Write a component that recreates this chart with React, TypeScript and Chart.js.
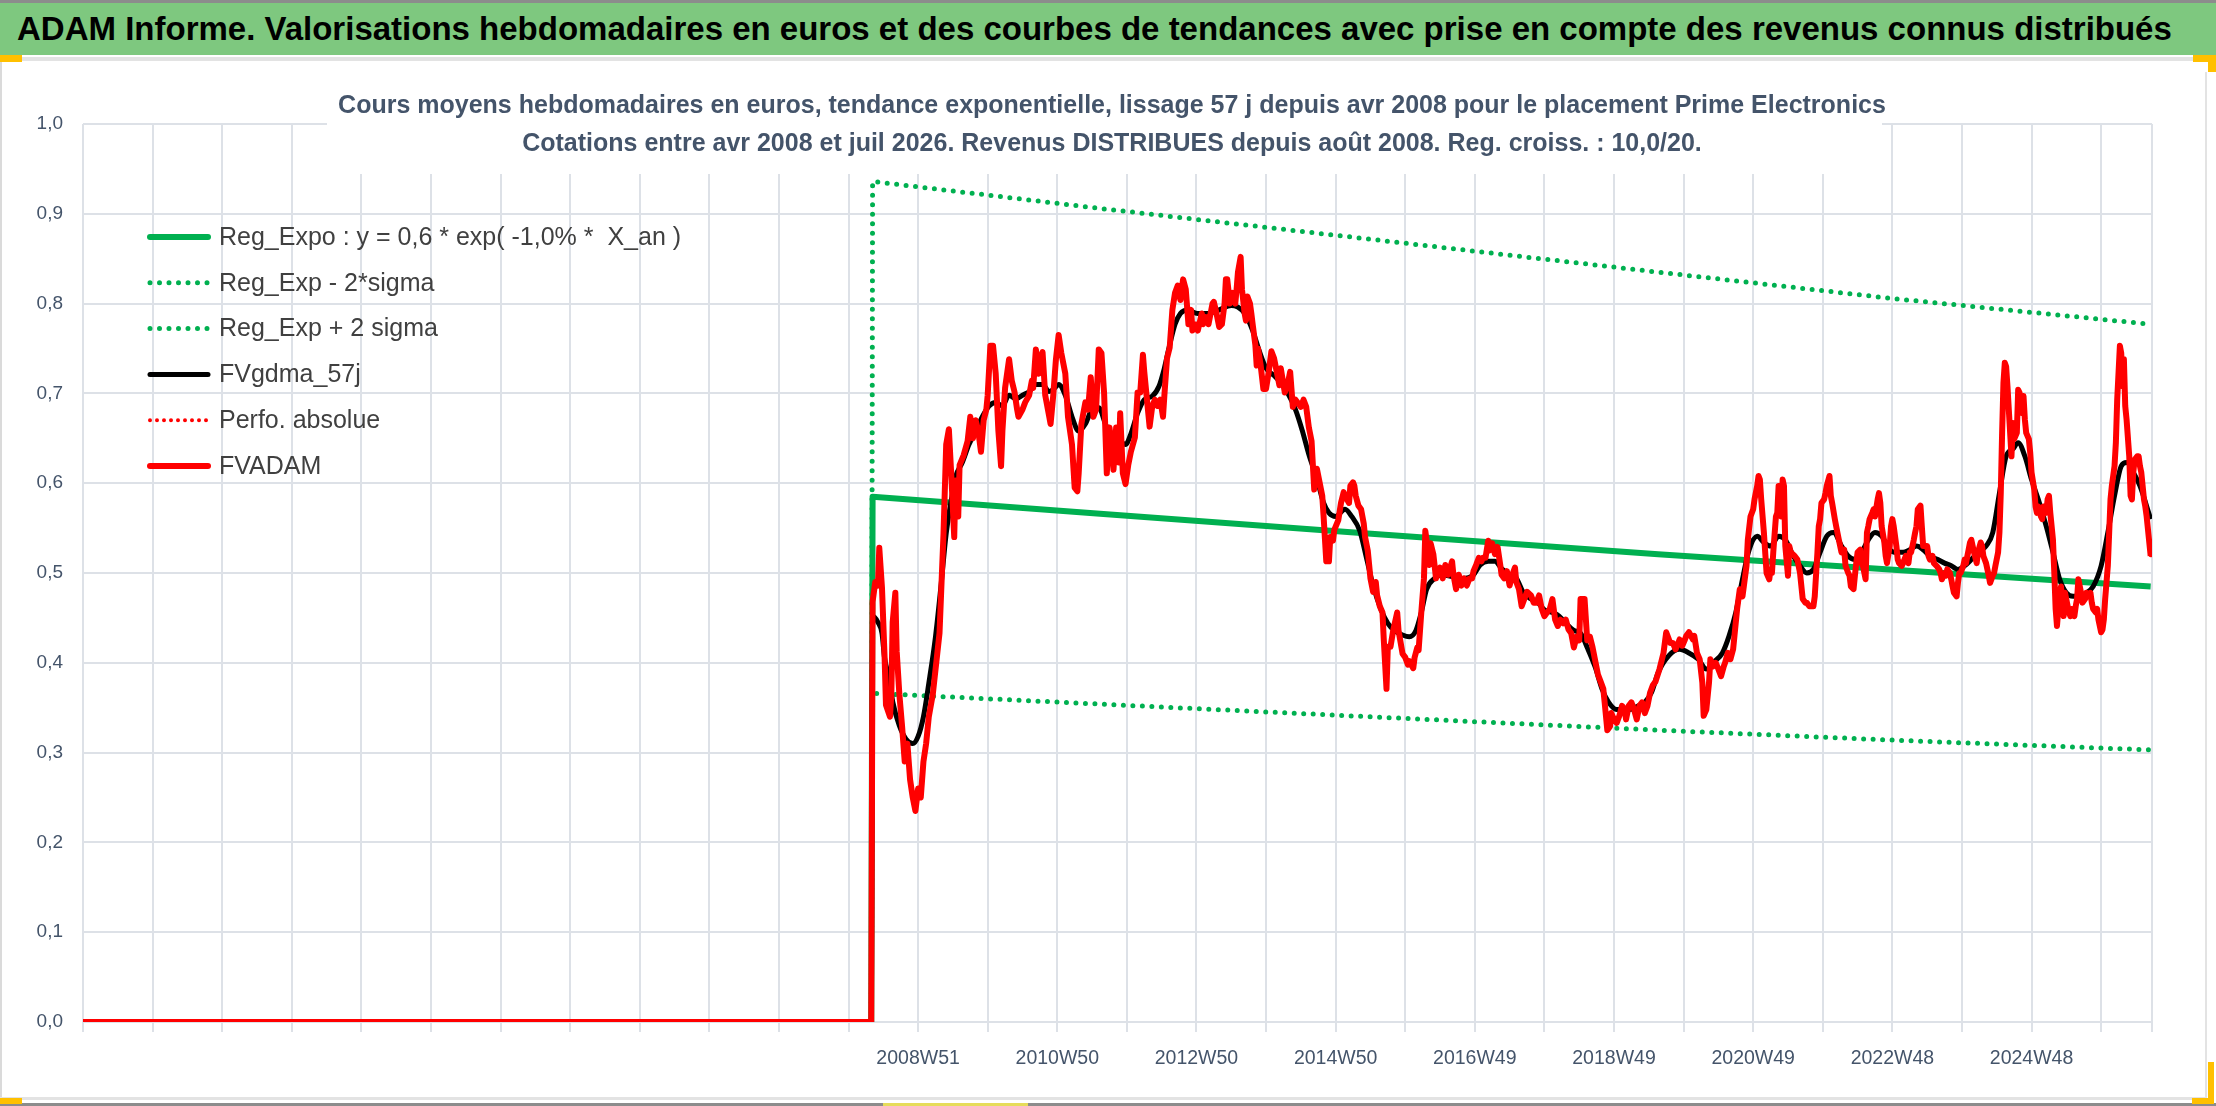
import { useEffect, useRef } from "react";
import { Chart, registerables, type Plugin } from "chart.js";

Chart.register(...registerables);

const FONT = "'Liberation Sans', Arial, sans-serif";
const GRID = "#DDE1E7";
const TICK = "#44546A";

const headerText =
  "ADAM Informe. Valorisations hebdomadaires en euros et des courbes de tendances avec prise en compte des revenus connus distribués";

const titleLines = [
  "Cours moyens hebdomadaires en euros, tendance exponentielle, lissage 57 j depuis avr 2008 pour le placement Prime Electronics",
  "Cotations entre avr 2008 et juil 2026. Revenus DISTRIBUES depuis août 2008. Reg. croiss. : 10,0/20.",
];

const seriesLabels = [
  "Reg_Expo : y = 0,6 * exp( -1,0% *  X_an )",
  "Reg_Exp - 2*sigma",
  "Reg_Exp + 2 sigma",
  "FVgdma_57j",
  "Perfo. absolue",
  "FVADAM",
];

// x axis = week index (one vertical grid line every 52 weeks)
const lastWeek = 1546;
const xTickWeeks = [624, 728, 832, 936, 1040, 1144, 1248, 1352, 1456];
const xTickLabels = ["2008W51", "2010W50", "2012W50", "2014W50", "2016W49", "2018W49", "2020W49", "2022W48", "2024W48"];

const regExpoPoints: [number, number][] = [
  [0, 0], [589, 0], [590, 0.585], [760, 0.566], [960, 0.544], [1177, 0.521], [1350, 0.504], [1545, 0.485],
];
const regLowPoints: [number, number][] = [
  [0, 0], [589, 0], [590, 0.366], [760, 0.354], [960, 0.34], [1177, 0.325], [1350, 0.314], [1545, 0.303],
];
const regHighPoints: [number, number][] = [
  [0, 0], [589, 0], [590, 0.936], [760, 0.906], [960, 0.872], [1177, 0.835], [1350, 0.806], [1545, 0.777],
];

const fvgdmaPoints: [number, number][] = [
  [0, 0], [589, 0], [590, 0.452], [594, 0.445], [597, 0.433], [599, 0.405], [602, 0.385], [605, 0.357],
  [610, 0.33], [615, 0.315], [620, 0.31], [624, 0.318], [628, 0.34], [632, 0.377], [637, 0.429], [641, 0.484],
  [645, 0.544], [649, 0.583], [652, 0.607], [657, 0.623], [662, 0.643], [667, 0.658], [672, 0.674], [677, 0.686],
  [682, 0.69], [687, 0.686], [692, 0.698], [697, 0.694], [702, 0.698], [707, 0.702], [712, 0.71], [717, 0.71],
  [722, 0.702], [726, 0.706], [729, 0.71], [734, 0.698], [739, 0.674], [744, 0.658], [749, 0.666], [754, 0.682],
  [759, 0.684], [764, 0.666], [769, 0.651], [775, 0.647], [779, 0.643], [783, 0.655], [788, 0.678], [793, 0.693],
  [799, 0.697], [804, 0.708], [808, 0.728], [812, 0.754], [816, 0.777], [820, 0.789], [825, 0.793], [833, 0.789],
  [841, 0.789], [849, 0.793], [858, 0.798], [863, 0.796], [868, 0.789], [874, 0.77], [879, 0.747], [884, 0.728],
  [890, 0.72], [895, 0.712], [900, 0.701], [906, 0.682], [911, 0.659], [916, 0.632], [922, 0.605], [927, 0.578],
  [931, 0.567], [936, 0.563], [943, 0.571], [948, 0.563], [954, 0.547], [959, 0.517], [964, 0.486], [970, 0.459],
  [975, 0.444], [980, 0.436], [986, 0.431], [991, 0.429], [996, 0.436], [1000, 0.456], [1004, 0.482], [1010, 0.494],
  [1015, 0.498], [1023, 0.496], [1031, 0.494], [1039, 0.498], [1044, 0.509], [1050, 0.513], [1055, 0.513], [1060, 0.505],
  [1066, 0.498], [1071, 0.494], [1076, 0.479], [1082, 0.471], [1087, 0.467], [1092, 0.459], [1098, 0.456], [1103, 0.452],
  [1108, 0.444], [1114, 0.436], [1119, 0.433], [1124, 0.417], [1130, 0.395], [1135, 0.371], [1140, 0.356], [1146, 0.348],
  [1151, 0.348], [1156, 0.348], [1162, 0.352], [1167, 0.356], [1172, 0.367], [1177, 0.389], [1185, 0.408], [1193, 0.415],
  [1200, 0.411], [1207, 0.404], [1213, 0.393], [1218, 0.4], [1225, 0.411], [1230, 0.43], [1235, 0.456], [1240, 0.493],
  [1245, 0.526], [1251, 0.541], [1256, 0.534], [1261, 0.53], [1267, 0.541], [1272, 0.537], [1278, 0.519], [1283, 0.508],
  [1288, 0.5], [1293, 0.504], [1298, 0.523], [1303, 0.541], [1308, 0.545], [1314, 0.53], [1319, 0.519], [1324, 0.515],
  [1329, 0.523], [1334, 0.537], [1339, 0.545], [1344, 0.541], [1350, 0.526], [1355, 0.523], [1360, 0.523], [1365, 0.526],
  [1370, 0.53], [1375, 0.526], [1380, 0.519], [1386, 0.515], [1391, 0.511], [1396, 0.508], [1401, 0.504], [1406, 0.508],
  [1411, 0.515], [1416, 0.523], [1422, 0.53], [1427, 0.545], [1432, 0.589], [1437, 0.63], [1442, 0.638], [1446, 0.645],
  [1451, 0.63], [1456, 0.604], [1461, 0.582], [1467, 0.552], [1472, 0.523], [1477, 0.493], [1482, 0.478], [1487, 0.474],
  [1492, 0.474], [1497, 0.478], [1502, 0.485], [1508, 0.508], [1513, 0.545], [1518, 0.586], [1523, 0.619], [1527, 0.623],
  [1532, 0.612], [1537, 0.597], [1545, 0.56],
];

const fvadamPoints: [number, number][] = [
  [0, 0], [589, 0], [590, 0.468], [592, 0.49], [594, 0.486], [595, 0.528], [597, 0.484], [599, 0.405],
  [600, 0.353], [603, 0.34], [604, 0.365], [605, 0.445], [607, 0.478], [608, 0.413], [610, 0.365], [612, 0.33],
  [614, 0.29], [616, 0.31], [618, 0.27], [620, 0.25], [622, 0.235], [624, 0.26], [626, 0.25], [628, 0.29],
  [630, 0.31], [632, 0.34], [635, 0.365], [640, 0.433], [643, 0.544], [645, 0.643], [647, 0.66], [649, 0.603],
  [651, 0.54], [652, 0.603], [654, 0.563], [655, 0.62], [658, 0.631], [661, 0.647], [663, 0.674], [665, 0.65],
  [667, 0.67], [669, 0.658], [671, 0.635], [673, 0.67], [675, 0.682], [676, 0.698], [678, 0.753], [680, 0.753],
  [682, 0.722], [684, 0.658], [686, 0.619], [687, 0.658], [689, 0.706], [692, 0.738], [694, 0.714], [696, 0.702],
  [698, 0.682], [699, 0.674], [702, 0.682], [704, 0.69], [707, 0.698], [709, 0.714], [710, 0.706], [712, 0.749],
  [714, 0.722], [715, 0.738], [717, 0.746], [719, 0.698], [722, 0.674], [723, 0.666], [725, 0.698], [727, 0.738],
  [729, 0.765], [731, 0.745], [734, 0.722], [736, 0.674], [739, 0.643], [741, 0.595], [743, 0.591], [744, 0.611],
  [746, 0.666], [747, 0.674], [749, 0.69], [751, 0.682], [753, 0.718], [755, 0.674], [757, 0.682], [759, 0.749],
  [761, 0.745], [763, 0.7], [765, 0.611], [767, 0.662], [769, 0.64], [770, 0.615], [772, 0.662], [774, 0.623],
  [775, 0.678], [777, 0.611], [779, 0.599], [781, 0.62], [783, 0.635], [786, 0.651], [788, 0.701], [790, 0.701],
  [792, 0.743], [793, 0.724], [796, 0.678], [797, 0.663], [799, 0.686], [801, 0.693], [803, 0.686], [805, 0.693],
  [807, 0.674], [808, 0.697], [810, 0.739], [812, 0.751], [814, 0.793], [816, 0.812], [818, 0.82], [820, 0.804],
  [822, 0.827], [824, 0.816], [826, 0.777], [828, 0.793], [829, 0.77], [831, 0.777], [833, 0.77], [836, 0.789],
  [837, 0.777], [839, 0.785], [841, 0.777], [844, 0.8], [845, 0.802], [847, 0.789], [849, 0.774], [851, 0.777],
  [853, 0.8], [854, 0.827], [855, 0.827], [857, 0.8], [859, 0.812], [861, 0.8], [862, 0.816], [863, 0.835],
  [865, 0.852], [866, 0.816], [868, 0.789], [869, 0.781], [870, 0.808], [872, 0.8], [873, 0.789], [874, 0.777],
  [876, 0.754], [877, 0.731], [878, 0.75], [880, 0.731], [882, 0.705], [884, 0.705], [886, 0.724], [888, 0.747],
  [890, 0.739], [892, 0.724], [894, 0.709], [895, 0.728], [898, 0.701], [900, 0.709], [902, 0.724], [903, 0.705],
  [904, 0.685], [906, 0.693], [908, 0.689], [910, 0.685], [912, 0.693], [914, 0.685], [916, 0.662], [918, 0.647],
  [919, 0.62], [920, 0.593], [922, 0.616], [924, 0.601], [926, 0.586], [927, 0.563], [929, 0.513], [931, 0.513],
  [932, 0.54], [934, 0.536], [935, 0.548], [938, 0.559], [940, 0.578], [942, 0.59], [943, 0.586], [946, 0.578],
  [947, 0.597], [949, 0.601], [950, 0.597], [951, 0.586], [953, 0.575], [955, 0.571], [957, 0.555], [958, 0.54],
  [960, 0.525], [962, 0.494], [964, 0.479], [966, 0.49], [967, 0.475], [969, 0.463], [971, 0.456], [972, 0.425],
  [974, 0.371], [975, 0.418], [977, 0.418], [979, 0.436], [982, 0.456], [983, 0.436], [986, 0.41], [988, 0.406],
  [990, 0.398], [991, 0.402], [994, 0.394], [995, 0.406], [997, 0.417], [998, 0.414], [1000, 0.456], [1002, 0.494],
  [1003, 0.547], [1004, 0.536], [1006, 0.509], [1007, 0.533], [1009, 0.521], [1011, 0.494], [1012, 0.502], [1014, 0.506],
  [1016, 0.494], [1018, 0.509], [1020, 0.498], [1023, 0.513], [1024, 0.498], [1026, 0.482], [1028, 0.498], [1030, 0.486],
  [1032, 0.494], [1034, 0.486], [1036, 0.494], [1038, 0.494], [1039, 0.502], [1041, 0.509], [1043, 0.517], [1045, 0.513],
  [1046, 0.517], [1048, 0.517], [1050, 0.536], [1051, 0.525], [1053, 0.533], [1055, 0.521], [1057, 0.529], [1059, 0.509],
  [1060, 0.498], [1062, 0.494], [1064, 0.502], [1066, 0.486], [1068, 0.498], [1070, 0.506], [1071, 0.49], [1073, 0.482],
  [1075, 0.463], [1077, 0.471], [1079, 0.479], [1082, 0.475], [1084, 0.467], [1086, 0.467], [1088, 0.475], [1090, 0.46],
  [1092, 0.452], [1094, 0.456], [1096, 0.46], [1098, 0.471], [1100, 0.448], [1102, 0.441], [1104, 0.448], [1106, 0.444],
  [1108, 0.448], [1110, 0.437], [1112, 0.433], [1114, 0.417], [1116, 0.429], [1118, 0.425], [1119, 0.471], [1122, 0.471],
  [1124, 0.425], [1126, 0.429], [1128, 0.417], [1130, 0.402], [1132, 0.387], [1134, 0.379], [1136, 0.371], [1137, 0.356],
  [1139, 0.325], [1141, 0.329], [1142, 0.344], [1144, 0.337], [1146, 0.333], [1148, 0.341], [1150, 0.352], [1152, 0.348],
  [1153, 0.337], [1155, 0.352], [1157, 0.356], [1159, 0.348], [1161, 0.337], [1163, 0.352], [1165, 0.356], [1167, 0.344],
  [1169, 0.352], [1171, 0.367], [1173, 0.375], [1175, 0.379], [1178, 0.393], [1181, 0.411], [1183, 0.434], [1184, 0.43],
  [1186, 0.422], [1188, 0.422], [1190, 0.415], [1192, 0.422], [1193, 0.426], [1195, 0.419], [1197, 0.426], [1198, 0.43],
  [1200, 0.434], [1203, 0.426], [1204, 0.43], [1206, 0.411], [1208, 0.404], [1210, 0.378], [1211, 0.341], [1213, 0.348],
  [1215, 0.378], [1216, 0.404], [1218, 0.396], [1220, 0.4], [1222, 0.393], [1224, 0.385], [1226, 0.396], [1227, 0.4],
  [1229, 0.411], [1231, 0.404], [1233, 0.415], [1234, 0.43], [1236, 0.46], [1238, 0.482], [1240, 0.474], [1241, 0.485],
  [1243, 0.508], [1244, 0.537], [1246, 0.563], [1248, 0.571], [1249, 0.582], [1251, 0.597], [1252, 0.608], [1253, 0.604],
  [1254, 0.582], [1256, 0.545], [1258, 0.5], [1260, 0.493], [1261, 0.504], [1262, 0.5], [1263, 0.523], [1265, 0.563],
  [1266, 0.567], [1267, 0.597], [1269, 0.563], [1270, 0.604], [1271, 0.597], [1272, 0.53], [1274, 0.497], [1275, 0.53],
  [1276, 0.523], [1279, 0.519], [1281, 0.515], [1283, 0.5], [1285, 0.471], [1287, 0.467], [1288, 0.467], [1290, 0.463],
  [1293, 0.463], [1294, 0.474], [1296, 0.523], [1297, 0.552], [1298, 0.56], [1299, 0.578], [1301, 0.582], [1302, 0.589],
  [1303, 0.597], [1305, 0.608], [1306, 0.586], [1307, 0.578], [1309, 0.56], [1310, 0.552], [1312, 0.537], [1314, 0.523],
  [1316, 0.526], [1317, 0.508], [1319, 0.5], [1320, 0.497], [1321, 0.485], [1323, 0.482], [1324, 0.497], [1325, 0.511],
  [1326, 0.523], [1328, 0.526], [1329, 0.511], [1330, 0.508], [1332, 0.493], [1333, 0.545], [1334, 0.552], [1335, 0.56],
  [1337, 0.567], [1338, 0.571], [1339, 0.563], [1341, 0.582], [1342, 0.589], [1343, 0.578], [1344, 0.552], [1346, 0.534],
  [1347, 0.519], [1348, 0.511], [1350, 0.53], [1351, 0.552], [1352, 0.56], [1353, 0.552], [1355, 0.53], [1356, 0.515],
  [1357, 0.511], [1359, 0.508], [1360, 0.511], [1361, 0.515], [1362, 0.519], [1364, 0.511], [1365, 0.523], [1366, 0.523],
  [1368, 0.537], [1369, 0.545], [1370, 0.552], [1371, 0.571], [1373, 0.575], [1374, 0.552], [1375, 0.53], [1377, 0.53],
  [1378, 0.53], [1379, 0.519], [1380, 0.515], [1382, 0.519], [1383, 0.511], [1385, 0.508], [1387, 0.504], [1388, 0.5],
  [1389, 0.493], [1391, 0.5], [1392, 0.497], [1393, 0.504], [1395, 0.5], [1396, 0.493], [1397, 0.485], [1398, 0.478],
  [1400, 0.474], [1401, 0.489], [1402, 0.5], [1403, 0.5], [1405, 0.508], [1406, 0.515], [1407, 0.511], [1409, 0.526],
  [1410, 0.534], [1411, 0.537], [1413, 0.523], [1415, 0.511], [1416, 0.523], [1418, 0.534], [1419, 0.53], [1420, 0.519],
  [1422, 0.511], [1423, 0.504], [1424, 0.497], [1425, 0.489], [1427, 0.497], [1428, 0.5], [1429, 0.508], [1431, 0.523],
  [1432, 0.545], [1433, 0.589], [1434, 0.656], [1435, 0.712], [1436, 0.734], [1437, 0.73], [1438, 0.708], [1440, 0.656],
  [1441, 0.63], [1442, 0.667], [1443, 0.649], [1445, 0.656], [1446, 0.704], [1447, 0.701], [1449, 0.678], [1450, 0.697],
  [1451, 0.671], [1452, 0.656], [1454, 0.649], [1455, 0.634], [1456, 0.612], [1458, 0.593], [1459, 0.574], [1460, 0.567],
  [1461, 0.574], [1463, 0.563], [1464, 0.56], [1465, 0.574], [1467, 0.567], [1468, 0.582], [1469, 0.586], [1470, 0.567],
  [1472, 0.537], [1473, 0.5], [1474, 0.46], [1475, 0.441], [1476, 0.46], [1478, 0.485], [1479, 0.467], [1480, 0.452],
  [1481, 0.478], [1483, 0.463], [1484, 0.456], [1485, 0.452], [1486, 0.46], [1488, 0.452], [1489, 0.463], [1490, 0.471],
  [1491, 0.493], [1493, 0.478], [1494, 0.467], [1496, 0.471], [1497, 0.478], [1499, 0.474], [1500, 0.478], [1501, 0.467],
  [1502, 0.46], [1504, 0.456], [1505, 0.46], [1506, 0.448], [1508, 0.434], [1509, 0.437], [1510, 0.448], [1511, 0.471],
  [1513, 0.508], [1514, 0.545], [1515, 0.582], [1516, 0.597], [1518, 0.619], [1519, 0.645], [1520, 0.693], [1522, 0.753],
  [1523, 0.745], [1524, 0.708], [1525, 0.738], [1526, 0.686], [1527, 0.671], [1529, 0.63], [1530, 0.586], [1531, 0.582],
  [1532, 0.612], [1533, 0.626], [1535, 0.63], [1536, 0.63], [1537, 0.619], [1538, 0.612], [1540, 0.582], [1541, 0.574],
  [1542, 0.563], [1545, 0.519],
];

// "Perfo. absolue" lies exactly under FVADAM in the picture
const perfoPoints = fvadamPoints;

const toXY = (pts: [number, number][]) => pts.map(([x, y]) => ({ x, y }));

// title drawn over the top of the plot, on a white box hiding the grid
const overlayTitle: Plugin<"line"> = {
  id: "overlayTitle",
  beforeDatasetsDraw(chart) {
    const { ctx, chartArea, width } = chart;
    const cx = width / 2;
    ctx.save();
    ctx.fillStyle = "#ffffff";
    ctx.fillRect(cx - 781, chartArea.top - 40, 1555, 90);
    ctx.font = `bold 25px ${FONT}`;
    ctx.fillStyle = TICK;
    ctx.textAlign = "center";
    ctx.textBaseline = "middle";
    titleLines.forEach((t, i) => ctx.fillText(t, cx + 4, chartArea.top - 18 + i * 38));
    ctx.restore();
  },
};

// legend sitting inside the plot, top-left
const insideLegend: Plugin<"line"> = {
  id: "insideLegend",
  afterDatasetsDraw(chart) {
    const { ctx, chartArea } = chart;
    ctx.save();
    ctx.font = `25px ${FONT}`;
    ctx.textBaseline = "middle";
    chart.data.datasets.forEach((ds: any, i) => {
      const y = chartArea.top + 113 + i * 45.8;
      ctx.save();
      ctx.strokeStyle = ds.borderColor;
      ctx.lineWidth = ds.borderWidth;
      ctx.lineCap = "round";
      ctx.setLineDash(ds.borderDash ?? []);
      ctx.beginPath();
      ctx.moveTo(chartArea.left + 67, y);
      ctx.lineTo(chartArea.left + 125, y);
      ctx.stroke();
      ctx.restore();
      ctx.fillStyle = "#404040";
      ctx.fillText(ds.label, chartArea.left + 136, y + 1);
    });
    ctx.restore();
  },
};

function TrendChart() {
  const canvasRef = useRef<HTMLCanvasElement>(null);

  useEffect(() => {
    if (!canvasRef.current) return;
    Chart.defaults.font.family = FONT;
    const chart = new Chart(canvasRef.current, {
      type: "line",
      data: {
        datasets: [
          { label: seriesLabels[0], data: toXY(regExpoPoints), borderColor: "#00B050", borderWidth: 6, order: 5 },
          {
            label: seriesLabels[1], data: toXY(regLowPoints), borderColor: "#00B050", borderWidth: 5,
            borderDash: [0, 9.5], borderCapStyle: "round", order: 4,
          },
          {
            label: seriesLabels[2], data: toXY(regHighPoints), borderColor: "#00B050", borderWidth: 5,
            borderDash: [0, 9.5], borderCapStyle: "round", order: 3,
          },
          {
            label: seriesLabels[3], data: toXY(fvgdmaPoints), borderColor: "#000000", borderWidth: 5,
            cubicInterpolationMode: "monotone", order: 2,
          },
          {
            label: seriesLabels[4], data: toXY(perfoPoints), borderColor: "#FF0000", borderWidth: 4,
            borderDash: [0, 7], borderCapStyle: "round", order: 1,
          },
          { label: seriesLabels[5], data: toXY(fvadamPoints), borderColor: "#FF0000", borderWidth: 6, order: 0 },
        ],
      },
      options: {
        responsive: false,
        animation: false,
        events: [],
        layout: { padding: { top: 124, left: 0, right: 64, bottom: 24 } },
        elements: { point: { radius: 0 }, line: { borderJoinStyle: "round", tension: 0 } },
        plugins: { legend: { display: false }, title: { display: false }, tooltip: { enabled: false } },
        scales: {
          x: {
            type: "linear",
            min: 0,
            max: lastWeek,
            bounds: "data",
            afterFit: (s) => {
              s.height = 60;
            },
            grid: { color: GRID, lineWidth: 2, drawTicks: true, tickLength: 10, tickColor: GRID },
            border: { color: GRID, width: 2 },
            ticks: {
              stepSize: 52,
              autoSkip: false,
              includeBounds: false,
              maxRotation: 0,
              padding: 15,
              color: TICK,
              font: { size: 19.5 },
              callback: (v) => {
                const i = xTickWeeks.indexOf(Number(v));
                return i >= 0 ? xTickLabels[i] : "";
              },
            },
          },
          y: {
            min: 0,
            max: 1,
            afterFit: (s) => {
              s.width = 83;
            },
            grid: { color: GRID, lineWidth: 2, drawTicks: false },
            border: { display: false },
            ticks: {
              stepSize: 0.1,
              padding: 20,
              color: TICK,
              font: { size: 19 },
              callback: (v) => Number(v).toFixed(1).replace(".", ","),
            },
          },
        },
      },
      plugins: [overlayTitle, insideLegend],
    });
    return () => chart.destroy();
  }, []);

  return <canvas ref={canvasRef} width={2216} height={1106} style={{ position: "absolute", left: 0, top: 0 }} />;
}

const box = (left: number, top: number, width: number, height: number, background: string) => (
  <div style={{ position: "absolute", left, top, width, height, background }} />
);

export default function App() {
  return (
    <div
      style={{
        position: "fixed",
        left: 0,
        top: 0,
        width: 2216,
        height: 1106,
        background: "#ffffff",
        overflow: "hidden",
        fontFamily: FONT,
      }}
    >
      {box(0, 0, 2216, 3, "#8C8C8C")}
      <div
        style={{
          position: "absolute",
          left: 0,
          top: 3,
          width: 2216,
          height: 52,
          background: "#7EC87F",
          color: "#000",
          fontWeight: "bold",
          fontSize: 33,
          lineHeight: "52px",
          paddingLeft: 17,
          boxSizing: "border-box",
          whiteSpace: "nowrap",
        }}
      >
        {headerText}
      </div>
      {box(0, 57, 2216, 4, "#E3E3E3")}
      {box(0, 55, 22, 7, "#FFC000")}
      {box(2193, 55, 23, 7, "#FFC000")}
      {box(2208, 55, 8, 17, "#FFC000")}
      {box(0, 62, 2, 1036, "#DADADA")}
      {box(2205, 72, 2, 1026, "#E3E3E3")}
      {box(0, 1097, 2207, 3, "#E3E3E3")}
      {box(0, 1103, 2216, 3, "#8C8C8C")}
      {box(0, 1098, 22, 6, "#FFC000")}
      {box(883, 1103, 145, 3, "#E6DC5A")}
      {box(2208, 1062, 6, 42, "#FFC000")}
      {box(2192, 1098, 22, 6, "#FFC000")}
      <TrendChart />
    </div>
  );
}
